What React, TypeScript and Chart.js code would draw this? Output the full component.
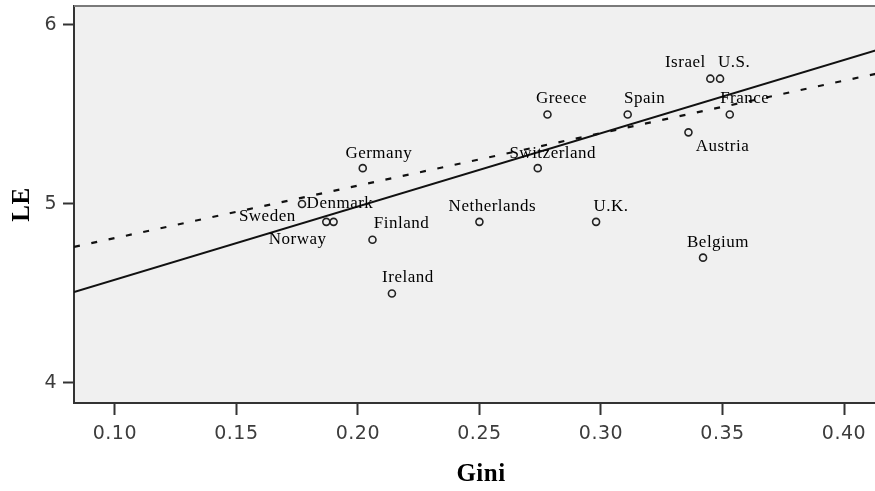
import React, { useEffect, useRef } from "react";
import { Chart, registerables } from "chart.js";

Chart.register(...registerables);

// ---- data ----
const countries = [
  "Greece", "Spain", "Israel", "U.S.", "France", "Austria", "Switzerland", "Germany",
  "Denmark", "Sweden", "Norway", "Finland", "Ireland", "Netherlands", "U.K.", "Belgium",
];
const gini = [
  0.278, 0.311, 0.345, 0.349, 0.353, 0.336, 0.274, 0.202,
  0.177, 0.187, 0.190, 0.206, 0.214, 0.250, 0.298, 0.342,
];
const lifeExp = [
  5.5, 5.5, 5.7, 5.7, 5.5, 5.4, 5.2, 5.2,
  5.0, 4.9, 4.9, 4.8, 4.5, 4.9, 4.9, 4.7,
];
// fit lines (end points)
const fitSolidX = [0.0832, 0.4181];
const fitSolidY = [4.508, 5.878];
const fitDashX = [0.0832, 0.4181];
const fitDashY = [4.76, 5.742];

const xTickValues = [0.1, 0.15, 0.2, 0.25, 0.3, 0.35, 0.4];
const xTickLabels = ["0.10", "0.15", "0.20", "0.25", "0.30", "0.35", "0.40"];
const yTickValues = [4, 5, 6];
const yTickLabels = ["4", "5", "6"];
const xRange = [0.0832, 0.4181];
const yRange = [3.888, 6.106];

// ---- style: label offsets in px (dx, dy) ----
const labelOffsets: [number, number][] = [
  [14, -16], [17, -16], [-25, -16], [14, -16], [15, -16], [34, 14], [15, -15], [16, -15],
  [38, 0], [-59, -5], [-36, 18], [29, -16], [16, -16], [13, -15], [15, -15], [15, -15],
];

const bgPlugin = {
  id: "bgPlugin",
  beforeDraw(chart: any) {
    const { ctx, chartArea } = chart;
    ctx.save();
    ctx.fillStyle = "#ffffff";
    ctx.fillRect(0, 0, chart.width, chart.height);
    ctx.fillStyle = "#f0f0f0";
    ctx.fillRect(chartArea.left, chartArea.top, chartArea.right - chartArea.left, chartArea.bottom - chartArea.top);
    ctx.restore();
    (ctx as any).letterSpacing = "0.5px";
  },
  afterDraw(chart: any) {
    const { ctx, chartArea } = chart;
    ctx.save();
    ctx.strokeStyle = "#7a7a7a";
    ctx.lineWidth = 2;
    ctx.beginPath();
    ctx.moveTo(chartArea.left, chartArea.top);
    ctx.lineTo(chartArea.right, chartArea.top);
    ctx.stroke();
    ctx.restore();
    (ctx as any).letterSpacing = "0px";
  },
};

const labelPlugin = {
  id: "pointLabels",
  afterDatasetsDraw(chart: any) {
    const ctx = chart.ctx;
    const meta = chart.getDatasetMeta(0);
    ctx.save();
    ctx.font = '17px "Liberation Serif"';
    (ctx as any).letterSpacing = "0.5px";
    ctx.fillStyle = "#000";
    ctx.textAlign = "center";
    ctx.textBaseline = "middle";
    meta.data.forEach((pt: any, i: number) => {
      const [dx, dy] = labelOffsets[i];
      ctx.fillText(countries[i], pt.x + dx, pt.y + dy);
    });
    ctx.restore();
  },
};

export default function App() {
  const ref = useRef<HTMLCanvasElement | null>(null);

  useEffect(() => {
    if (!ref.current) return;
    const tickFont = { family: "DejaVu Sans", size: 19 };
    const chart = new Chart(ref.current, {
      type: "scatter",
      data: {
        datasets: [
          {
            label: "points",
            data: gini.map((g, i) => ({ x: g, y: lifeExp[i] })),
            pointStyle: "circle",
            pointRadius: 3.5,
            pointBorderWidth: 1.6,
            borderColor: "#222",
            backgroundColor: "rgba(0,0,0,0)",
            showLine: false,
          },
          {
            label: "fit",
            data: fitSolidX.map((x, i) => ({ x, y: fitSolidY[i] })),
            showLine: true,
            pointRadius: 0,
            borderColor: "#111",
            borderWidth: 2,
          },
          {
            label: "fit2",
            data: fitDashX.map((x, i) => ({ x, y: fitDashY[i] })),
            showLine: true,
            pointRadius: 0,
            borderColor: "#111",
            borderWidth: 2.2,
            borderDash: [6, 11.7],
          },
        ],
      },
      options: {
        responsive: false,
        animation: false,
        devicePixelRatio: 1,
        layout: { autoPadding: false, padding: { top: 6, left: 0, right: 0, bottom: 0 } },
        plugins: { legend: { display: false }, tooltip: { enabled: false } },
        scales: {
          x: {
            type: "linear",
            min: xRange[0],
            max: xRange[1],
            afterBuildTicks: (s: any) => {
              s.ticks = xTickValues.map((v) => ({ value: v }));
            },
            afterFit: (s: any) => {
              s.height = 88;
              s.paddingLeft = 0;
              s.paddingRight = 0;
              s.paddingTop = 0;
              s.paddingBottom = 0;
            },
            ticks: {
              callback: (_v: any, i: number) => xTickLabels[i],
              font: tickFont,
              color: "#3c3c3c",
              padding: 8,
              maxRotation: 0,
              autoSkip: false,
            },
            grid: {
              display: true,
              drawOnChartArea: false,
              drawTicks: true,
              tickLength: 12,
              tickWidth: 2,
              tickColor: "#333",
            },
            border: { display: true, color: "#333", width: 2 },
            title: {
              display: true,
              text: "Gini",
              font: { family: "Liberation Serif", size: 25, weight: "bold" },
              color: "#000",
              padding: { top: 0, bottom: 1 },
            },
          },
          y: {
            type: "linear",
            min: yRange[0],
            max: yRange[1],
            afterBuildTicks: (s: any) => {
              s.ticks = yTickValues.map((v) => ({ value: v }));
            },
            afterFit: (s: any) => {
              s.width = 74;
              s.paddingTop = 0;
              s.paddingBottom = 0;
              s.paddingLeft = 0;
              s.paddingRight = 0;
            },
            ticks: {
              callback: (_v: any, i: number) => yTickLabels[i],
              font: tickFont,
              color: "#3c3c3c",
              padding: 6,
            },
            grid: {
              display: true,
              drawOnChartArea: false,
              drawTicks: true,
              tickLength: 11,
              tickWidth: 2,
              tickColor: "#333",
            },
            border: { display: true, color: "#333", width: 2 },
            title: {
              display: true,
              text: "LE",
              font: { family: "Liberation Serif", size: 25, weight: "bold" },
              color: "#000",
              padding: { top: 8, bottom: 0 },
            },
          },
        },
      } as any,
      plugins: [bgPlugin, labelPlugin],
    });
    return () => chart.destroy();
  }, []);

  return (
    <div
      style={{
        position: "fixed",
        left: 0,
        top: 0,
        width: 875,
        height: 491,
        overflow: "hidden",
        background: "#fff",
      }}
    >
      <canvas ref={ref} width={888} height={491} style={{ display: "block", width: 888, height: 491 }} />
    </div>
  );
}
